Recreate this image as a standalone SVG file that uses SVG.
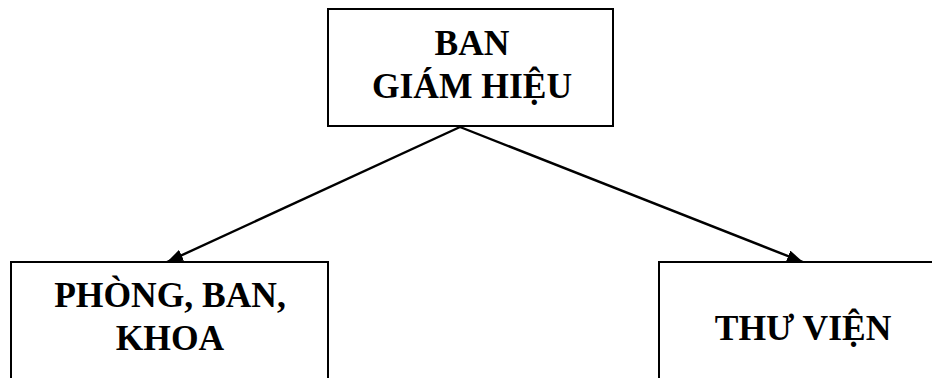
<svg xmlns="http://www.w3.org/2000/svg" width="932" height="378" viewBox="0 0 932 378">
<style>
.box{fill:#fff;stroke:#000;stroke-width:2}
.t{font-family:"Liberation Serif","Times New Roman",serif;font-weight:bold;font-size:35.5px;fill:#000;text-anchor:middle}
.c{stroke:#000;stroke-width:2.4;fill:none}
</style>
<defs>
<marker id="ah" viewBox="0 0 16 12" refX="16" refY="6" markerWidth="16" markerHeight="12" markerUnits="userSpaceOnUse" orient="auto">
<path d="M0,0 L16,6 L0,12 Z" fill="#000"/>
</marker>
</defs>
<rect width="932" height="378" fill="#fff"/>
<g id="connectors">
<line class="c" x1="460" y1="127" x2="167" y2="262" marker-end="url(#ah)"/>
<line class="c" x1="460" y1="127" x2="803" y2="262" marker-end="url(#ah)"/>
</g>
<g id="ban-giam-hieu">
<rect class="box" x="328" y="9" width="285" height="117"/>
<text class="t" x="472" y="55">BAN</text>
<text class="t" x="472" y="98">GIÁM HIỆU</text>
</g>
<g id="phong-ban-khoa">
<rect class="box" x="11" y="262" width="317" height="130"/>
<text class="t" x="170" y="307">PHÒNG, BAN,</text>
<text class="t" x="170" y="350">KHOA</text>
</g>
<g id="thu-vien">
<rect class="box" x="659" y="262" width="290" height="130"/>
<text class="t" x="803" y="340">THƯ VIỆN</text>
</g>
</svg>
